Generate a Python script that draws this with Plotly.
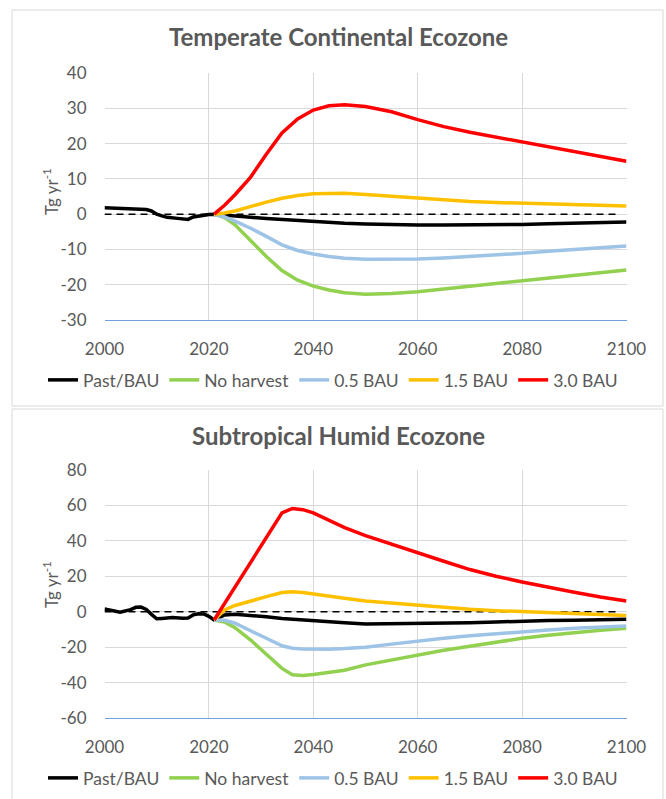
import plotly.graph_objects as go

# ── Colours / fonts ───────────────────────────────────────
TXT_CLR = "#595959"
GRID_CLR = "#d9d9d9"
AXIS_CLR = "#6fa0dc"
FONT = "Lato, Open Sans, sans-serif"
SERIES_CLR = ["#000000", "#92d050", "#9dc3e6", "#ffc000", "#ff0000"]
SERIES_NAMES = ["Past/BAU", "No harvest", "0.5 BAU", "1.5 BAU", "3.0 BAU"]

# ── Tick labels ───────────────────────────────────────────
x_ticks = [2000, 2020, 2040, 2060, 2080, 2100]
tc_yticks = [-30, -20, -10, 0, 10, 20, 30, 40]
sh_yticks = [-60, -40, -20, 0, 20, 40, 60, 80]

# ── Temperate Continental data ───────────────────────────
tc_past_years = [2000, 2002, 2004, 2006, 2008, 2009, 2010, 2011, 2012, 2014, 2016, 2017, 2018, 2019, 2020, 2021]
tc_past = [1.8, 1.7, 1.4, 1.4, 1.3, 0.9, 0.0, -0.5, -0.9, -1.2, -1.5, -0.8, -0.5, -0.4, -0.1, 0.0]

tc_years = [2021, 2023, 2025, 2028, 2031, 2034, 2037, 2040, 2043, 2046, 2050,
            2055, 2060, 2065, 2070, 2075, 2080, 2085, 2090, 2095, 2100]
tc_bau = [0.0, -0.3, -0.6, -0.9, -1.2, -1.5, -1.8, -2.1, -2.4, -2.6, -2.8,
          -3.0, -3.1, -3.1, -3.1, -3.0, -2.9, -2.7, -2.5, -2.3, -2.2]
tc_noharvest = [0.0, -1.0, -3.0, -7.5, -12.0, -16.0, -18.7, -20.4, -21.5, -22.3, -22.7,
                -22.5, -22.0, -21.2, -20.4, -19.7, -18.9, -18.0, -17.2, -16.5, -15.8]
tc_half = [0.0, -0.8, -2.0, -4.0, -6.3, -8.7, -10.3, -11.3, -12.0, -12.5, -12.8,
           -12.8, -12.7, -12.4, -12.0, -11.6, -11.1, -10.5, -10.0, -9.5, -9.0]
tc_onehalf = [0.0, 0.3, 0.9, 2.2, 3.4, 4.5, 5.3, 5.8, 5.9, 5.9, 5.6,
              5.1, 4.5, 4.0, 3.6, 3.3, 3.1, 2.8, 2.6, 2.4, 2.3]
tc_triple = [0.0, 2.5, 5.5, 10.5, 17.0, 23.0, 27.0, 29.5, 30.7, 31.0, 30.5,
             29.0, 26.8, 24.8, 23.2, 21.8, 20.6, 19.2, 17.8, 16.4, 15.0]

# ── Subtropical Humid data ───────────────────────────────
sh_past_years = [2000, 2001, 2003, 2005, 2006, 2007, 2008, 2009, 2010, 2011, 2013, 2015, 2016, 2017, 2018, 2019, 2020, 2021]
sh_past = [1.5, 0.8, -0.3, 1.2, 2.5, 2.6, 1.3, -1.5, -4.0, -3.8, -3.3, -3.7, -3.5, -1.8, -1.2, -1.3, -2.6, -4.7]

sh_years = [2021, 2023, 2025, 2028, 2031, 2034, 2036, 2038, 2040, 2043, 2046,
            2050, 2055, 2060, 2065, 2070, 2075, 2080, 2085, 2090, 2095, 2100]
sh_bau = [-4.7, -1.8, -1.5, -2.0, -2.8, -3.8, -4.3, -4.8, -5.3, -5.8, -6.3,
          -7.0, -6.9, -6.7, -6.6, -6.2, -5.8, -5.3, -5.0, -4.8, -4.5, -4.3]
sh_noharvest = [-4.7, -5.8, -9.0, -16.0, -24.0, -32.0, -35.6, -36.0, -35.4, -34.3, -33.0,
                -30.0, -27.2, -24.4, -21.8, -19.5, -17.2, -15.0, -13.3, -11.8, -10.5, -9.4]
sh_half = [-4.7, -4.8, -6.5, -10.5, -15.0, -19.2, -20.6, -21.0, -21.2, -21.2, -20.8,
           -20.0, -18.3, -16.5, -15.0, -13.6, -12.4, -11.3, -10.3, -9.4, -8.7, -8.1]
sh_onehalf = [-4.7, 1.0, 3.5, 6.2, 8.5, 10.8, 11.2, 10.8, 9.9, 8.8, 7.6,
              6.0, 4.8, 3.8, 2.6, 1.4, 0.6, 0.0, -0.8, -1.4, -1.9, -2.2]
sh_triple = [-4.7, 4.6, 13.9, 27.9, 41.8, 55.8, 58.3, 57.6, 55.8, 51.5, 47.5,
             43.0, 38.0, 33.0, 28.5, 23.8, 20.0, 16.8, 13.8, 11.0, 8.3, 6.0]

ref_years = [2000, 2098.5]
ref_zero = [0, 0]

W, H = 666, 799


def px_x(p):
    return p / W


def px_y(p):
    return 1 - p / H


fig = go.Figure()


def add_panel(fig, xa, ya, legend, past_years, past, years, scen):
    # dashed zero reference
    fig.add_trace(go.Scatter(
        x=ref_years, y=ref_zero, mode="lines", xaxis=xa, yaxis=ya,
        line=dict(color="#000000", width=1.5, dash="7px,5px"),
        showlegend=False, hoverinfo="skip",
    ))
    bau_x = past_years + years[1:]
    bau_y = past + scen[0][1:]
    series = [(bau_x, bau_y)] + [(years, s) for s in scen[1:]]
    for i, (xs, ys) in enumerate(series):
        fig.add_trace(go.Scatter(
            x=xs, y=ys, mode="lines", name=SERIES_NAMES[i],
            xaxis=xa, yaxis=ya, legend=legend,
            line=dict(color=SERIES_CLR[i], width=3.5),
        ))


add_panel(fig, "x", "y", "legend", tc_past_years, tc_past, tc_years,
          [tc_bau, tc_noharvest, tc_half, tc_onehalf, tc_triple])
add_panel(fig, "x2", "y2", "legend2", sh_past_years, sh_past, sh_years,
          [sh_bau, sh_noharvest, sh_half, sh_onehalf, sh_triple])

x_dom = [px_x(104.5), px_x(626.5)]
xaxis_common = dict(
    range=[2000, 2100], tickvals=x_ticks,
    showgrid=True, gridcolor=GRID_CLR, gridwidth=1, zeroline=False,
    showline=True, linecolor=AXIS_CLR, linewidth=1, ticks="",
    tickfont=dict(family=FONT, size=17, color=TXT_CLR), ticklabelstandoff=14,
    domain=x_dom, automargin=False,
)
yaxis_common = dict(
    showgrid=True, gridcolor=GRID_CLR, gridwidth=1, zeroline=False,
    showline=False, ticks="", automargin=False,
    tickfont=dict(family=FONT, size=17, color=TXT_CLR), ticklabelstandoff=17,
)

legend_common = dict(
    orientation="h", xanchor="center", x=0.5, yanchor="middle",
    font=dict(family=FONT, size=17.5, color=TXT_CLR),
    bgcolor="rgba(0,0,0,0)", itemwidth=30, traceorder="normal",
)

fig.update_layout(
    width=W, height=H,
    margin=dict(l=0, r=0, t=0, b=0, autoexpand=False),
    paper_bgcolor="white", plot_bgcolor="white",
    font=dict(family=FONT, color=TXT_CLR),
    xaxis=dict(**xaxis_common, anchor="y"),
    yaxis=dict(**yaxis_common, anchor="x", range=[-30, 40],
               tickvals=tc_yticks, ticktext=[str(v) for v in tc_yticks],
               domain=[px_y(320), px_y(73)]),
    xaxis2=dict(**xaxis_common, anchor="y2"),
    yaxis2=dict(**yaxis_common, anchor="x2", range=[-60, 80],
                tickvals=sh_yticks, ticktext=[str(v) for v in sh_yticks],
                domain=[px_y(718), px_y(470)]),
    legend=dict(**legend_common, y=px_y(380)),
    legend2=dict(**legend_common, y=px_y(778)),
    shapes=[
        dict(type="rect", xref="paper", yref="paper",
             x0=px_x(12), x1=px_x(663), y0=px_y(406), y1=px_y(10),
             line=dict(color=GRID_CLR, width=1), layer="below"),
        dict(type="rect", xref="paper", yref="paper",
             x0=px_x(12), x1=px_x(663), y0=px_y(812), y1=px_y(409),
             line=dict(color=GRID_CLR, width=1), layer="below"),
    ],
    annotations=[
        dict(text="<b>Temperate Continental Ecozone</b>", xref="paper", yref="paper",
             x=px_x(338), y=px_y(37), showarrow=False, xanchor="center", yanchor="middle",
             font=dict(family=FONT, size=24, color=TXT_CLR)),
        dict(text="<b>Subtropical Humid Ecozone</b>", xref="paper", yref="paper",
             x=px_x(338), y=px_y(435), showarrow=False, xanchor="center", yanchor="middle",
             font=dict(family=FONT, size=24, color=TXT_CLR)),
        dict(text="Tg yr<sup>-1</sup>", xref="paper", yref="paper",
             x=px_x(50), y=px_y(192), showarrow=False, textangle=-90,
             xanchor="center", yanchor="middle",
             font=dict(family=FONT, size=17, color=TXT_CLR)),
        dict(text="Tg yr<sup>-1</sup>", xref="paper", yref="paper",
             x=px_x(50), y=px_y(585), showarrow=False, textangle=-90,
             xanchor="center", yanchor="middle",
             font=dict(family=FONT, size=17, color=TXT_CLR)),
    ],
)

fig.write_html("out.html", config={"displayModeBar": False},
               post_script="document.body.style.margin='0';")
